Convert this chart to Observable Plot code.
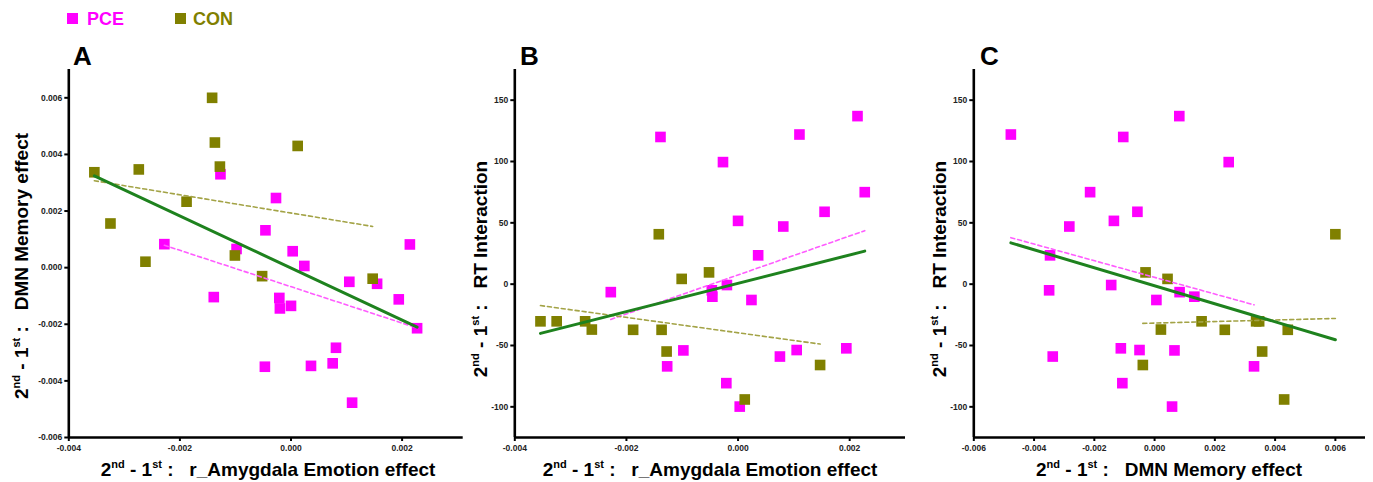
<!DOCTYPE html>
<html>
<head>
<meta charset="utf-8">
<script src="https://cdn.jsdelivr.net/npm/d3@7"></script>
<script src="https://cdn.jsdelivr.net/npm/@observablehq/plot@0.6"></script>
<style>
  html, body { margin: 0; padding: 0; background: #fff; }
  #root { position: relative; width: 1373px; height: 482px; overflow: hidden; font-family: "Liberation Sans", Arial, sans-serif; }
  .abs { position: absolute; white-space: nowrap; font-weight: bold; }
  .lab { font-size: 19px; line-height: 19px; color: #000; }
  .lab sup { font-size: 11px; vertical-align: baseline; position: relative; top: -8px; line-height: 0; }
  .letter { font-size: 26px; line-height: 26px; color: #000; }
  .leg { font-size: 18px; line-height: 18px; }
  .sq { position: absolute; width: 11px; height: 11px; }
  .panel { position: absolute; top: 0; }
</style>
</head>
<body>
<div id="root"></div>
<script>
// ---- data (one entry per subject) ----
const groups = [
  "PCE","PCE","PCE","PCE","PCE","PCE","PCE","PCE","PCE","PCE","PCE",
  "PCE","PCE","PCE","PCE","PCE","PCE","PCE","PCE","PCE","PCE",
  "CON","CON","CON","CON","CON","CON","CON","CON","CON","CON","CON","CON"
];
// 2nd - 1st : r_Amygdala Emotion effect
const amygdala = [
  -0.00139, -0.00027, 0.00110, 0.00214, 0.00227, 0.00000, 0.00081, 0.00155, 0.00036, -0.00020, -0.00046,
  -0.00047, -0.00228, 0.00024, -0.00098, -0.00127, 0.00075, 0.00105, 0.00194, -0.00021, 0.00003,
  -0.00142, -0.00052, -0.00101, -0.00354, -0.00325, -0.00274, -0.00262, -0.00188, -0.00137, -0.00128, 0.00147, 0.00012
];
// 2nd - 1st : DMN Memory effect
const dmn = [
  -0.00104, 0.00246, -0.00477, 0.00082, -0.00214, -0.00135, -0.00283, -0.00057, -0.00347, -0.00144, 0.00132,
  -0.00350, 0.00083, 0.00006, 0.00066, 0.00330, -0.00338, -0.00050, -0.00112, -0.00107, 0.00058,
  0.00600, -0.00030, 0.00043, 0.00337, 0.00156, 0.00347, 0.00021, 0.00233, 0.00442, 0.00357, -0.00039, 0.00430
];
// 2nd - 1st : RT Interaction
const rt = [
  120, 99.5, 122, 137, 75, 51.6, 47, 59, 23.5, -0.7, -10.2,
  -5, -6.5, -12.9, -54, -67, -59, -53.7, -52.3, -80.7, -99.8,
  40.7, 9.6, 4.3, -30.3, -30.3, -30.3, -37, -37.2, -37.2, -54.9, -65.9, -94
];
const groupNames = ["PCE", "CON"];
const groupColors = ["#ff00ff", "#808000"];
const xTicksAmyg = [-0.004, -0.002, 0, 0.002];
const xTicksDmn = [-0.006, -0.004, -0.002, 0, 0.002, 0.004, 0.006];
const yTicksDmn = [-0.006, -0.004, -0.002, 0, 0.002, 0.004, 0.006];
const yTicksRt = [-100, -50, 0, 50, 100, 150];

const rows = groups.map((g, i) => ({group: g, amyg: amygdala[i], dmn: dmn[i], rt: rt[i]}));

const fmt3 = d => d.toFixed(3);
const fmtInt = d => String(d);

function panel(o) {
  const pce = rows.filter(d => d.group === "PCE");
  const con = rows.filter(d => d.group === "CON");
  return Plot.plot({
    width: o.width, height: 482,
    marginLeft: o.ml, marginRight: o.mr, marginTop: 69, marginBottom: 45,
    x: {domain: o.xDomain},
    y: {domain: o.yDomain},
    color: {domain: groupNames, range: groupColors},
    style: {fontFamily: "'Liberation Sans', Arial, sans-serif", fontSize: "8.5px", fontWeight: "bold", color: "#222", background: "transparent", overflow: "visible"},
    marks: [
      Plot.axisX({ticks: o.xTicks, tickFormat: o.xFmt, tickSize: 4, tickPadding: 3, stroke: "#000", strokeWidth: 2, label: null}),
      Plot.axisY({ticks: o.yTicks, tickFormat: o.yFmt, tickSize: 4, tickPadding: 2.5, stroke: "#000", strokeWidth: 2, label: null}),
      Plot.ruleX([o.xDomain[0]], {stroke: "#000", strokeWidth: 2.6}),
      Plot.ruleY([o.yDomain[0]], {stroke: "#000", strokeWidth: 2.6}),
      Plot.dot(rows, {x: o.x, y: o.y, symbol: "square", r: 6, fill: "group", stroke: null}),
      Plot.linearRegressionY(pce, {x: o.x, y: o.y, stroke: "#ff5cff", strokeWidth: 1.6, strokeDasharray: "4,3", ci: 0}),
      Plot.linearRegressionY(con, {x: o.x, y: o.y, stroke: "#a3a346", strokeWidth: 1.6, strokeDasharray: "4,3", ci: 0}),
      Plot.linearRegressionY(rows, {x: o.x, y: o.y, stroke: "#1e821e", strokeWidth: 3, ci: 0})
    ]
  });
}

const root = document.getElementById("root");
function place(el, left) {
  const wrap = document.createElement("div");
  wrap.className = "panel";
  wrap.style.left = left + "px";
  wrap.appendChild(el);
  root.appendChild(wrap);
}

place(panel({x: "amyg", y: "dmn", xDomain: [-0.004, 0.0031], yDomain: [-0.006, 0.007],
  xTicks: xTicksAmyg, yTicks: yTicksDmn, xFmt: fmt3, yFmt: fmt3, width: 470, ml: 68.3, mr: 7.3}), 0);
place(panel({x: "amyg", y: "rt", xDomain: [-0.004, 0.003], yDomain: [-125, 175],
  xTicks: xTicksAmyg, yTicks: yTicksRt, xFmt: fmt3, yFmt: fmtInt, width: 450, ml: 44.3, mr: 15}), 470);
place(panel({x: "dmn", y: "rt", xDomain: [-0.006, 0.007], yDomain: [-125, 175],
  xTicks: xTicksDmn, yTicks: yTicksRt, xFmt: fmt3, yFmt: fmtInt, width: 453, ml: 53.3, mr: 8}), 920);

function addText(html, cls, left, top, transform) {
  const d = document.createElement("div");
  d.className = "abs " + cls;
  d.innerHTML = html;
  d.style.left = left + "px";
  d.style.top = top + "px";
  if (transform) d.style.transform = transform;
  root.appendChild(d);
  return d;
}
const pre = "2<sup>nd</sup> - 1<sup>st</sup> :&nbsp;&nbsp;&nbsp;";
// x labels
addText(pre + "r_Amygdala Emotion effect", "lab", 268, 459.5, "translateX(-50%)");
addText(pre + "r_Amygdala Emotion effect", "lab", 710, 459.5, "translateX(-50%)");
addText(pre + "DMN Memory effect", "lab", 1169, 459.5, "translateX(-50%)");
// y labels
addText(pre + "DMN Memory effect", "lab", 20.5, 266, "translate(-50%,-50%) rotate(-90deg)");
addText(pre + "RT Interaction", "lab", 480, 269, "translate(-50%,-50%) rotate(-90deg)");
addText(pre + "RT Interaction", "lab", 939, 269, "translate(-50%,-50%) rotate(-90deg)");
// panel letters
addText("A", "letter", 73, 43);
addText("B", "letter", 520, 43);
addText("C", "letter", 980, 43);
// legend
groupNames.forEach((g, i) => {
  const sq = document.createElement("div");
  sq.className = "sq";
  sq.style.left = [67, 175][i] + "px";
  sq.style.top = "13px";
  sq.style.background = groupColors[i];
  root.appendChild(sq);
  const t = addText(g, "leg", [87, 193][i], 9.5);
  t.style.color = groupColors[i];
});
</script>
</body>
</html>
